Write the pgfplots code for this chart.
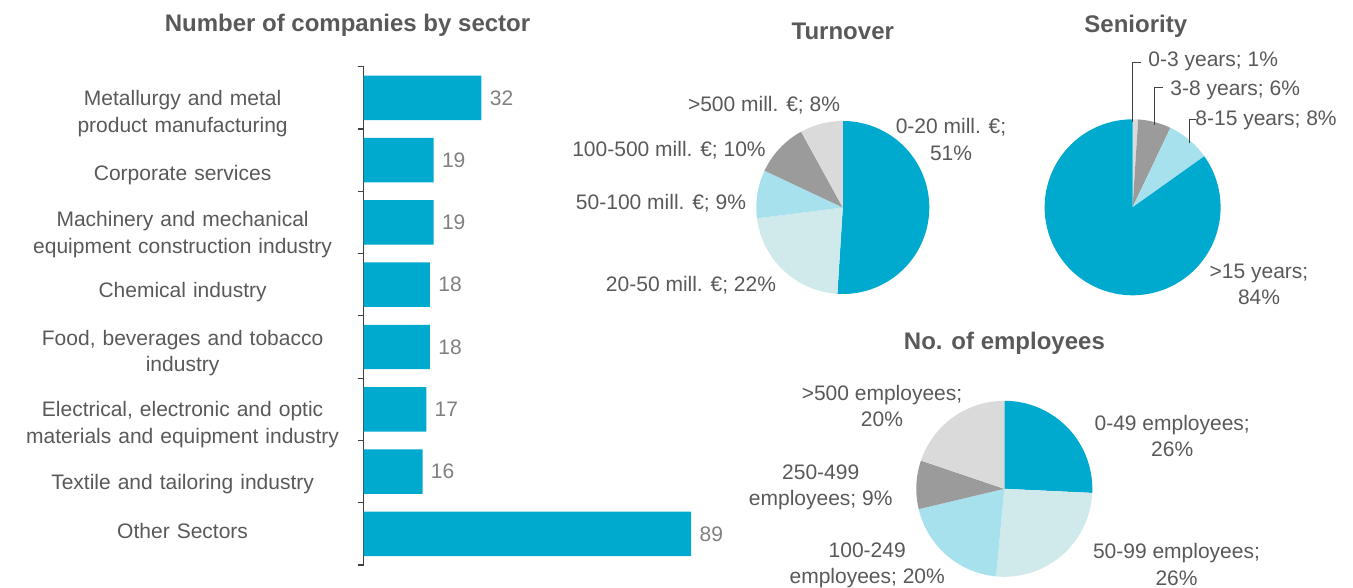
\documentclass[border=0pt]{standalone}
\usepackage{fontspec}
\setmainfont{Liberation Sans}
\usepackage{pgfplots}
\pgfplotsset{compat=1.18}

\definecolor{cblue}{RGB}{0,169,206}
\definecolor{cpale}{RGB}{208,234,236}
\definecolor{ccyan}{RGB}{168,225,238}
\definecolor{cgray}{RGB}{155,155,155}
\definecolor{clgray}{RGB}{218,218,218}
\definecolor{ctext}{RGB}{89,89,89}
\definecolor{cval}{RGB}{128,128,128}
\definecolor{caxis}{RGB}{64,64,64}

\newcommand{\lbl}{\fontsize{10.5}{13.3}\selectfont}
\newcommand{\ttl}{\fontsize{12}{14}\selectfont\bfseries}

% pie slice: #1 start value, #2 end value (cumulative), #3 total, #4 colour, #5 radius
\newcommand{\pieslice}[5]{%
  \pgfmathsetmacro\angA{90-(#2/#3)*360}%
  \pgfmathsetmacro\angB{90-(#1/#3)*360}%
  \edef\tmpslice{\noexpand\addplot[fill=#4, draw=none, domain=\angA:\angB, samples=90] ({#5*cos(x)},{#5*sin(x)}) -- (axis cs:0,0) -- cycle;}%
  \tmpslice}

\begin{document}
\begin{tikzpicture}
\path[use as bounding box] (0,0) rectangle (676.5pt,-294pt);

% ---------------- Bar chart ----------------
\begin{axis}[
  at={(181.85pt,-33.35pt)}, anchor=north west,
  scale only axis, width=184pt, height=249.15pt,
  xmin=0, xmax=100, ymin=-0.5, ymax=7.5, y dir=reverse,
  axis x line=none, axis y line*=left,
  xtick=\empty,
  ytick={0.222,1.201,2.161,3.084,4.067,5.214,6.161,6.92},
  yticklabels={{Metallurgy and metal\\product manufacturing},
               {Corporate services},
               {Machinery and mechanical\\equipment construction industry},
               {Chemical industry},
               {Food, beverages and tobacco\\industry},
               {Electrical, electronic and optic\\materials and equipment industry},
               {Textile and tailoring industry},
               {Other Sectors}},
  minor ytick={-0.5,0.5,...,7.5},
  major tick length=0pt, minor tick length=3pt, tick align=outside,
  tick style={caxis, line width=0.6pt},
  axis line style={caxis, line width=0.6pt},
  yticklabel style={font=\lbl, text=ctext, align=center, text width=180pt,
                    inner sep=0pt, anchor=east, xshift=-0.35pt, yshift=-1pt},
  /pgf/number format/assume math mode=true,
  clip=false,
]
\addplot[xbar, fill=cblue, draw=none, bar width=0.714,
  nodes near coords,
  nodes near coords style={font=\lbl, text=cval, anchor=west, inner sep=0pt, xshift=4pt}]
  coordinates {(32,0) (19,1) (19,2) (18,3) (18,4) (17,5) (16,6) (89,7)};
\end{axis}

% ---------------- Turnover pie ----------------
\begin{axis}[at={(421.4pt,-103.75pt)}, anchor=center, scale only axis,
  width=86.5pt, height=86.5pt, xmin=-86.5, xmax=86.5, ymin=-86.5, ymax=86.5,
  hide axis, clip=false]
\pieslice{0}{51}{100}{cblue}{86.5}
\pieslice{51}{73}{100}{cpale}{86.5}
\pieslice{73}{82}{100}{ccyan}{86.5}
\pieslice{82}{92}{100}{cgray}{86.5}
\pieslice{92}{100}{100}{clgray}{86.5}
\end{axis}

% ---------------- Seniority pie ----------------
\begin{axis}[at={(566.3pt,-103.65pt)}, anchor=center, scale only axis,
  width=88pt, height=88pt, xmin=-88, xmax=88, ymin=-88, ymax=88,
  hide axis, clip=false]
\pieslice{0}{1}{99}{clgray}{88}
\pieslice{1}{7}{99}{cgray}{88}
\pieslice{7}{15}{99}{ccyan}{88}
\pieslice{15}{99}{99}{cblue}{88}
\end{axis}

% ---------------- Employees pie ----------------
\begin{axis}[at={(502.15pt,-244.4pt)}, anchor=center, scale only axis,
  width=88pt, height=88pt, xmin=-88, xmax=88, ymin=-88, ymax=88,
  hide axis, clip=false]
\pieslice{0}{26}{101}{cblue}{88}
\pieslice{26}{52}{101}{cpale}{88}
\pieslice{52}{72}{101}{ccyan}{88}
\pieslice{72}{81}{101}{cgray}{88}
\pieslice{81}{101}{101}{clgray}{88}
\end{axis}

% ---------------- Titles and labels (pixel grid) ----------------
\begin{scope}[x=0.5pt, y=-0.5pt,
  every node/.style={font=\lbl, text=ctext, align=center, inner sep=0pt}]
\node[font=\ttl] at (347.5,25) {Number of companies by sector};
\node[font=\ttl] at (842.8,31.7) {Turnover};
\node[font=\ttl] at (1135.8,26.7) {Seniority};
\node[font=\ttl] at (1004.4,343.3) {No. of employees};

% Turnover labels
\node at (764,105) {>500 mill. €; 8\%};
\node at (669,150) {100-500 mill. €; 10\%};
\node at (661,203) {50-100 mill. €; 9\%};
\node at (691,285) {20-50 mill. €; 22\%};
\node at (951,139.2) {0-20 mill. €;\\51\%};

% Seniority labels
\draw[caxis, line width=0.5pt] (1132.3,121.7) -- (1132.3,63) -- (1141,63);
\draw[caxis, line width=0.5pt] (1154.5,125) -- (1154.5,88) -- (1163,88);
\draw[caxis, line width=0.5pt] (1189,143.3) -- (1189,120) -- (1196,120);
\node[anchor=west] at (1148,61.7) {0-3 years; 1\%};
\node[anchor=west] at (1170,90) {3-8 years; 6\%};
\node[anchor=west] at (1195,120) {8-15 years; 8\%};
\node at (1259,284.2) {>15 years;\\84\%};

% Employees labels
\node at (882,405.8) {>500 employees;\\20\%};
\node at (1172.2,435.8) {0-49 employees;\\26\%};
\node at (820.7,487.3) {250-499\\employees; 9\%};
\node at (867.2,565.5) {100-249\\employees; 20\%};
\node at (1176.5,564.2) {50-99 employees;\\26\%};
\end{scope}
\end{tikzpicture}
\end{document}
